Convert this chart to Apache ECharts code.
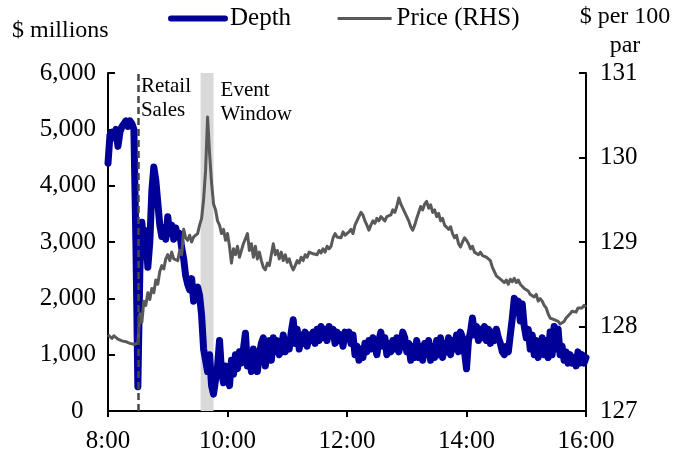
<!DOCTYPE html>
<html>
<head>
<meta charset="utf-8">
<script src="https://cdn.jsdelivr.net/npm/echarts@6/dist/echarts.min.js"></script>
<style>
  html, body { margin: 0; padding: 0; background: #fff; }
  #chart { width: 689px; height: 460px; }
</style>
</head>
<body>
<div id="chart"></div>
<script>
// x axis: minutes after 8:00, one reading every 2 minutes
const timeLabels = ['8:00', '10:00', '12:00', '14:00', '16:00']
const minutes = []
for (let m = 0; m <= 480; m += 2) minutes.push(m)

// $ millions
const depth = [
  4400, 4900, 4950, 4850, 5000, 4700, 4950, 5050, 5100, 5150,
  5050, 5150, 5100, 5000, 3000, 430, 2500, 3350, 2900, 3200,
  2550, 3000, 3900, 4330, 4100, 3700, 3300, 3100, 3250, 3050,
  3450, 3150, 3300, 3050, 3250, 3100, 3150, 2900, 2700, 2400,
  2250, 2150, 2350, 1950, 2100, 2200, 2050, 1700, 1100, 900,
  700, 1000, 450, 300, 550, 800, 1250, 700, 500, 800,
  600, 450, 900, 650, 1000, 750, 1050, 850, 1100, 1380,
  800, 1000, 700, 1100, 900, 700, 1000, 1200, 1300, 800,
  1100, 1250, 900, 1300, 1050, 1250, 1000, 1100, 1350, 1050,
  1250, 1100, 1400, 1620, 1200, 1450, 1100, 1350, 1200, 1400,
  1150, 1350, 1250, 1400, 1200, 1450, 1250, 1500, 1300, 1450,
  1250, 1500, 1350, 1450, 1200, 1400, 1250, 1350, 1150, 1400,
  1300, 1400, 1200, 1350, 1000, 1150, 900, 1100, 950, 1200,
  1050, 1250, 1100, 1300, 1150, 1000, 1250, 1400, 1150, 1300,
  1000, 1200, 1050, 1250, 1100, 1300, 1050, 1200, 1400, 1300,
  1050, 1200, 900, 1150, 950, 1250, 950, 1150, 900, 1200,
  1000, 1250, 900, 1150, 950, 1250, 1000, 1300, 950, 1200,
  1050, 1300, 1000, 1250, 1100, 1350, 1050, 1400, 1300, 1050,
  750, 1250, 1400, 1650, 1350, 1500, 1250, 1450, 1300, 1500,
  1250, 1450, 1200, 1400, 1250, 1450, 1300, 1200, 1050, 1000,
  1150, 1050, 1350, 1650, 2000, 1750, 1950, 1600, 1900, 1500,
  1300, 1450, 1100, 1350, 1000, 1250, 950, 1100, 1300, 1000,
  1250, 950, 1400, 1000, 1500, 1100, 1450, 1000, 1150, 900,
  1050, 850, 1000, 850, 950, 800, 1050, 850, 1000, 850,
  950
]

// $ per 100 par
const price = [
  127.90, 127.88, 127.86, 127.89, 127.87, 127.85, 127.86, 127.83, 127.84, 127.82,
  127.83, 127.80, 127.81, 127.79, 127.80, 127.80, 128.15, 128.05, 128.30, 128.25,
  128.40, 128.32, 128.45, 128.40, 128.55, 128.50, 128.65, 128.72, 128.68, 128.80,
  128.85, 128.78, 128.88, 128.80, 128.82, 128.78, 128.90, 128.85, 129.15, 129.05,
  129.02, 129.08, 129.00, 129.06, 129.04, 129.10, 129.20, 129.28, 129.50, 129.85,
  130.48, 130.05, 129.70, 129.45, 129.38, 129.25, 129.20, 129.10, 129.15, 129.02,
  129.10, 128.95, 128.75, 128.92, 128.85, 128.95, 128.82, 128.90, 128.98, 129.00,
  129.10, 128.90, 128.98, 128.82, 128.95, 128.80, 128.88, 128.78, 128.70, 128.67,
  128.75, 128.72, 128.85, 128.98, 128.85, 128.90, 128.80, 128.88, 128.78, 128.85,
  128.76, 128.80, 128.72, 128.67, 128.72, 128.78, 128.75, 128.82, 128.78, 128.85,
  128.82, 128.88, 128.90, 128.86, 128.88, 128.85, 128.90, 128.87, 128.92, 128.88,
  128.95, 128.92, 128.95, 129.05, 129.10, 129.06, 129.08, 129.05, 129.12, 129.08,
  129.10, 129.12, 129.15, 129.10, 129.20, 129.18, 129.30, 129.35, 129.32, 129.25,
  129.20, 129.14, 129.20, 129.25, 129.22, 129.28, 129.25, 129.30, 129.28, 129.25,
  129.30, 129.28, 129.32, 129.38, 129.35, 129.42, 129.52, 129.45, 129.40, 129.35,
  129.30, 129.25, 129.18, 129.14, 129.20, 129.28, 129.35, 129.42, 129.38, 129.45,
  129.48, 129.40, 129.44, 129.35, 129.38, 129.30, 129.34, 129.25, 129.28, 129.20,
  129.22, 129.15, 129.18, 129.10, 129.05, 129.08, 128.98, 128.94, 129.00, 129.05,
  129.02, 128.98, 128.92, 128.95, 128.88, 128.90, 128.85, 128.88, 128.84, 128.86,
  128.82, 128.84, 128.78, 128.70, 128.65, 128.60, 128.62, 128.56, 128.58, 128.52,
  128.55, 128.50, 128.56, 128.53, 128.57, 128.52, 128.55, 128.50, 128.48, 128.45,
  128.47, 128.42, 128.38, 128.40, 128.35, 128.38, 128.30, 128.33, 128.30, 128.25,
  128.22, 128.15, 128.10, 128.12, 128.08, 128.10, 128.06, 128.03, 128.04, 128.06,
  128.10, 128.08, 128.15, 128.18, 128.20, 128.17, 128.22, 128.24, 128.22, 128.25,
  128.23
]

const retailSales = 30 // 8:30
const eventWindow = [93, 106] // about 9:33 - 9:46

const font = 'Liberation Serif, Times New Roman, serif'

const chart = echarts.init(document.getElementById('chart'))

const op = {
  animation: false,
  textStyle: { fontFamily: font, color: '#000' },
  grid: { left: 108, right: 103, top: 73, bottom: 49 },
  legend: {
    top: 1,
    left: 163,
    itemWidth: 54,
    itemHeight: 14,
    itemGap: 45,
    data: [
      { name: 'Depth', lineStyle: { width: 6, cap: 'round' } },
      { name: 'Price (RHS)', lineStyle: { width: 3 } }
    ],
    itemStyle: { opacity: 0 },
    textStyle: { fontFamily: font, fontSize: 25, color: '#000' }
  },
  xAxis: {
    type: 'value',
    min: 0,
    max: 480,
    interval: 120,
    axisLine: { lineStyle: { color: '#000', width: 2 } },
    axisTick: { show: true, length: 6, lineStyle: { color: '#000', width: 2 } },
    axisLabel: {
      margin: 18,
      fontSize: 25,
      color: '#000',
      fontFamily: font,
      formatter: v => timeLabels[v / 120]
    },
    splitLine: { show: false }
  },
  yAxis: [
    {
      type: 'value',
      min: 0,
      max: 6000,
      interval: 1000,
      axisLine: { show: true, lineStyle: { color: '#000', width: 2 } },
      axisTick: { show: true, inside: true, length: 7, lineStyle: { color: '#000', width: 2 } },
      axisLabel: {
        margin: 12,
        fontSize: 25,
        color: '#000',
        fontFamily: font,
        // the zero sits a little left of the others, as in the source
        formatter: v => (v === 0 ? '0\u2002' : v.toLocaleString('en-US'))
      },
      splitLine: { show: false }
    },
    {
      type: 'value',
      min: 127,
      max: 131,
      interval: 1,
      axisLine: { show: true, lineStyle: { color: '#000', width: 2 } },
      axisTick: { show: true, inside: true, length: 7, lineStyle: { color: '#000', width: 2 } },
      axisLabel: { margin: 14, fontSize: 25, color: '#000', fontFamily: font },
      splitLine: { show: false }
    }
  ],
  series: [
    {
      name: 'Depth',
      type: 'line',
      yAxisIndex: 0,
      symbol: 'none',
      data: minutes.map((m, i) => [m, depth[i]]),
      lineStyle: { color: '#000099', width: 7, join: 'round', cap: 'round' },
      itemStyle: { color: '#000099' },
      markArea: {
        silent: true,
        itemStyle: { color: '#d9d9d9' },
        data: [[{ xAxis: eventWindow[0] }, { xAxis: eventWindow[1] }]]
      }
    },
    {
      name: 'Price (RHS)',
      type: 'line',
      yAxisIndex: 1,
      symbol: 'none',
      data: minutes.map((m, i) => [m, price[i]]),
      lineStyle: { color: '#595959', width: 3, join: 'round' },
      itemStyle: { color: '#595959' },
      markLine: {
        silent: true,
        symbol: ['none', 'none'],
        label: { show: false },
        lineStyle: { color: '#474747', width: 2.5, type: [7, 4] },
        data: [{ xAxis: retailSales }]
      }
    }
  ]
}

chart.setOption(op)

// annotations and axis titles, placed from data coordinates
const pRetail = chart.convertToPixel({ xAxisIndex: 0, yAxisIndex: 0 }, [retailSales, 6000])
const pEvent = chart.convertToPixel({ xAxisIndex: 0, yAxisIndex: 0 }, [eventWindow[1], 6000])
const pTopLeft = chart.convertToPixel({ xAxisIndex: 0, yAxisIndex: 0 }, [0, 6000])
const pTopRight = chart.convertToPixel({ xAxisIndex: 0, yAxisIndex: 0 }, [480, 6000])

chart.setOption({
  graphic: [
    {
      type: 'text',
      left: pRetail[0] + 3,
      top: pRetail[1] + 1,
      style: { text: 'Retail\nSales', font: '21px ' + font, fill: '#000', lineHeight: 24 }
    },
    {
      type: 'text',
      left: pEvent[0] + 7,
      top: pEvent[1] + 5,
      style: { text: 'Event\nWindow', font: '21px ' + font, fill: '#000', lineHeight: 24 }
    },
    {
      type: 'text',
      left: pTopLeft[0] - 96,
      top: 19,
      style: { text: '$ millions', font: '24px ' + font, fill: '#000' }
    },
    {
      type: 'text',
      x: pTopRight[0] + 39,
      y: 2,
      style: { text: '$ per 100\npar', font: '24px ' + font, fill: '#000', align: 'center', lineHeight: 29 }
    }
  ]
})

window.addEventListener('resize', () => chart.resize())
</script>
</body>
</html>
